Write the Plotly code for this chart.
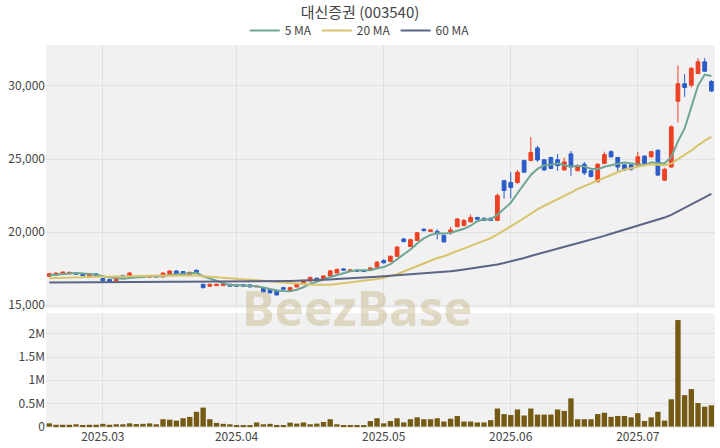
import pandas as pd
import plotly.graph_objects as go
from plotly.subplots import make_subplots

# ---------------- data ----------------
holidays = ["2025-03-03", "2025-05-01", "2025-05-05", "2025-05-06", "2025-06-03", "2025-06-06"]

opens = [16980, 17050, 17110, 17150, 17200, 17150, 17030, 17150, 16820, 16750,
         16660, 17040, 17020, 16950, 16950, 16930, 16960, 16930, 17120, 17340,
         17300, 17070, 17390, 16430, 16300, 16340, 16340, 16430, 16400, 16400,
         16390, 16250, 16140, 16070, 16020, 16200, 16000, 16250, 16450, 16650,
         16850, 16750, 17000, 17200, 17480, 17370, 17400, 17380, 17400, 17600,
         18050, 18000, 18340, 19530, 19020, 19430, 20200, 20050, 20050, 19780,
         20000, 20370, 20450, 20700, 21000, 20950, 20950, 20800, 23520, 23400,
         23400, 24900, 24900, 25760, 24950, 25100, 24950, 24250, 25350, 24200,
         24650, 24200, 23450, 24700, 25500, 25100, 24600, 24600, 24550, 25200,
         25150, 25600, 23550, 24450, 28950, 30150, 30050, 30850, 31650, 30300]
closes = [17160, 17200, 17270, 17250, 17120, 17030, 17150, 16980, 16670, 16600,
          16880, 16940, 17200, 16900, 16930, 16950, 16940, 17200, 17340, 17160,
          17110, 17250, 17200, 16200, 16430, 16430, 16480, 16300, 16300, 16300,
          16250, 16300, 15910, 15840, 15700, 16100, 16200, 16450, 16700, 16900,
          16680, 17000, 17350, 17450, 17400, 17410, 17330, 17300, 17550, 17950,
          17900, 18350, 18980, 19350, 19480, 19960, 20100, 20150, 19950, 19330,
          20150, 20900, 20800, 21000, 20880, 20800, 20800, 22500, 22850, 23050,
          24100, 24100, 25450, 24940, 24250, 24350, 24550, 24800, 24450, 24550,
          24050, 23800, 24650, 25300, 25150, 24450, 24250, 24300, 25150, 24700,
          25500, 23900, 24300, 27200, 30150, 29900, 31200, 31650, 31000, 29650]
highs = [17200, 17230, 17300, 17290, 17230, 17180, 17180, 17180, 16850, 16780,
         16900, 17060, 17280, 16980, 16980, 16980, 16990, 17230, 17400, 17400,
         17330, 17280, 17440, 16450, 16460, 16470, 16520, 16460, 16430, 16430,
         16410, 16330, 16160, 16100, 16050, 16260, 16250, 16480, 16730, 16950,
         16880, 17030, 17380, 17500, 17520, 17430, 17430, 17400, 17590, 18000,
         18150, 18400, 19020, 19600, 19550, 20000, 20250, 20200, 20200, 19800,
         20350, 20950, 20900, 21200, 21050, 21000, 21000, 22650, 23550, 24100,
         24250, 24950, 26500, 25900, 25000, 25150, 25350, 25100, 25550, 24650,
         24800, 24250, 24700, 25500, 25600, 25150, 24650, 24650, 25500, 25250,
         25550, 25650, 24400, 27300, 31400, 30800, 31300, 31900, 31900, 30400]
lows = [16950, 17000, 17080, 17120, 17100, 17000, 17000, 16950, 16640, 16560,
        16640, 16900, 16990, 16880, 16900, 16910, 16910, 16900, 17090, 17140,
        17080, 17040, 17180, 16150, 16280, 16310, 16320, 16270, 16280, 16280,
        16220, 16240, 15880, 15800, 15650, 15900, 15980, 16220, 16420, 16620,
        16640, 16720, 16970, 17180, 17380, 17340, 17300, 17270, 17380, 17580,
        17850, 17980, 18300, 19300, 18980, 19400, 20050, 20000, 19500, 19300,
        19800, 20330, 20400, 20650, 20850, 20750, 20750, 20750, 22300, 22300,
        23300, 24050, 24850, 24800, 24200, 24300, 24200, 24220, 23850, 24150,
        23900, 23750, 23400, 24650, 25100, 24100, 24200, 24200, 24500, 24650,
        25100, 23850, 23500, 24400, 27500, 29250, 29900, 30800, 30950, 29600]
volumes = [0.07, 0.04, 0.04, 0.04, 0.05, 0.035, 0.04, 0.04, 0.06, 0.04,
           0.05, 0.05, 0.07, 0.055, 0.06, 0.07, 0.05, 0.16, 0.15, 0.13,
           0.18, 0.21, 0.32, 0.41, 0.16, 0.08, 0.06, 0.05, 0.02, 0.02,
           0.03, 0.09, 0.05, 0.06, 0.035, 0.035, 0.085, 0.065, 0.09, 0.05,
           0.065, 0.10, 0.16, 0.05, 0.035, 0.035, 0.035, 0.02, 0.12, 0.18,
           0.07, 0.12, 0.18, 0.09, 0.16, 0.20, 0.16, 0.16, 0.18, 0.11,
           0.17, 0.23, 0.11, 0.11, 0.09, 0.09, 0.14, 0.39, 0.27, 0.25,
           0.37, 0.24, 0.39, 0.26, 0.26, 0.26, 0.37, 0.34, 0.61, 0.16,
           0.16, 0.16, 0.27, 0.30, 0.21, 0.23, 0.23, 0.20, 0.29, 0.12,
           0.20, 0.32, 0.13, 0.59, 2.30, 0.68, 0.81, 0.51, 0.43, 0.46]  # millions

ma5_head = [17050, 17100, 17150, 17180]
ma20_head = [16850, 16870, 16890, 16900, 16910, 16920, 16930, 16940, 16950, 16950,
             16960, 16970, 16980, 16990, 17000, 17010, 17020, 17030, 17040]
ma60_head = [16550, 16550, 16550, 16560, 16560, 16560, 16560, 16570, 16570, 16570,
             16570, 16580, 16580, 16580, 16590, 16590, 16590, 16600, 16600, 16600,
             16610, 16610, 16610, 16610, 16620, 16620, 16620, 16620, 16630, 16630,
             16630, 16640, 16640, 16640, 16650, 16650, 16660, 16670, 16680, 16700,
             16720, 16740, 16760, 16790, 16810, 16840, 16870, 16890, 16920, 16950,
             16980, 17010, 17040, 17070, 17100, 17130, 17160, 17190, 17230]

price_ticks = [15000, 20000, 25000, 30000]
vol_ticks = [0, 0.5, 1, 1.5, 2]
vol_tick_labels = ["0", "0.5M", "1M", "1.5M", "2M"]

# ---------------- build ----------------
dates = pd.bdate_range("2025-02-19", "2025-07-16")
dates = dates[~dates.isin(pd.to_datetime(holidays))]

close_s = pd.Series(closes, dtype=float)


def moving_average(n, head):
    ma = close_s.rolling(n).mean()
    ma.iloc[:len(head)] = head
    return ma


ma5 = moving_average(5, ma5_head)
ma20 = moving_average(20, ma20_head)
ma60 = moving_average(60, ma60_head)

UP = "#ee4124"
DOWN = "#2b5cc8"
FONT = "Noto Sans CJK KR, Noto Sans, sans-serif"

fig = make_subplots(rows=2, cols=1, shared_xaxes=True, vertical_spacing=0.013,
                    row_heights=[0.687, 0.300])

fig.add_trace(go.Candlestick(
    x=dates, open=opens, high=highs, low=lows, close=closes,
    increasing=dict(line=dict(color=UP, width=1), fillcolor=UP),
    decreasing=dict(line=dict(color=DOWN, width=1), fillcolor=DOWN),
    showlegend=False, name="대신증권"), row=1, col=1)

for name, series, color in [("5 MA", ma5, "#6ea593"),
                            ("20 MA", ma20, "#d8c46a"),
                            ("60 MA", ma60, "#5c6585")]:
    fig.add_trace(go.Scatter(x=dates, y=series, mode="lines", name=name,
                             line=dict(color=color, width=2)), row=1, col=1)

fig.add_trace(go.Bar(x=dates, y=[v * 1e6 for v in volumes], marker_color="#755a13",
                     marker_line_width=0, showlegend=False, name="Volume"),
              row=2, col=1)

rb = [dict(bounds=["sat", "mon"]), dict(values=holidays)]
xr = [dates[0] - pd.Timedelta(hours=12), dates[-1] + pd.Timedelta(hours=13)]
for r in (1, 2):
    fig.update_xaxes(rangebreaks=rb, range=xr, dtick="M1", tickformat="%Y.%m",
                     showgrid=True, gridcolor="#e0e0e0", gridwidth=1,
                     rangeslider_visible=False, showline=False, zeroline=False,
                     tickfont=dict(size=12, color="#444"), ticks="",
                     row=r, col=1)
fig.update_xaxes(showticklabels=False, row=1, col=1)

fig.update_yaxes(range=[14800, 32800], tickvals=price_ticks, tickformat=",",
                 showgrid=True, gridcolor="#e0e0e0", zeroline=False,
                 tickfont=dict(size=12, color="#444"), row=1, col=1)
fig.update_yaxes(range=[-0.03e6, 2.45e6], tickvals=[v * 1e6 for v in vol_ticks],
                 ticktext=vol_tick_labels, showgrid=True, gridcolor="#e0e0e0",
                 zeroline=False, tickfont=dict(size=12, color="#444"), row=2, col=1)

fig.add_annotation(text="<b>BeezBase</b>", xref="paper", yref="paper", x=0.465, y=0.225,
                   showarrow=False, font=dict(size=49, color="rgba(196,180,130,0.45)",
                                              family="Noto Sans, sans-serif"))

fig.update_layout(
    width=720, height=448,
    margin=dict(l=46, r=5, t=45, b=20),
    paper_bgcolor="white", plot_bgcolor="#f1f1f1",
    font=dict(family=FONT, color="#444"),
    title=dict(text="대신증권 (003540)", x=0.5, xanchor="center", y=0.972, yanchor="middle",
               font=dict(size=15, color="#444", family=FONT)),
    legend=dict(orientation="h", x=0.469, xanchor="center", y=1.0, yanchor="bottom",
                font=dict(size=12, color="#444"), bgcolor="rgba(0,0,0,0)",
                itemwidth=30),
    bargap=0.2,
    boxgap=0.2,
    showlegend=True,
)

fig.write_html("out.html", config={"displayModeBar": False},
               post_script="document.body.style.margin='0';")
